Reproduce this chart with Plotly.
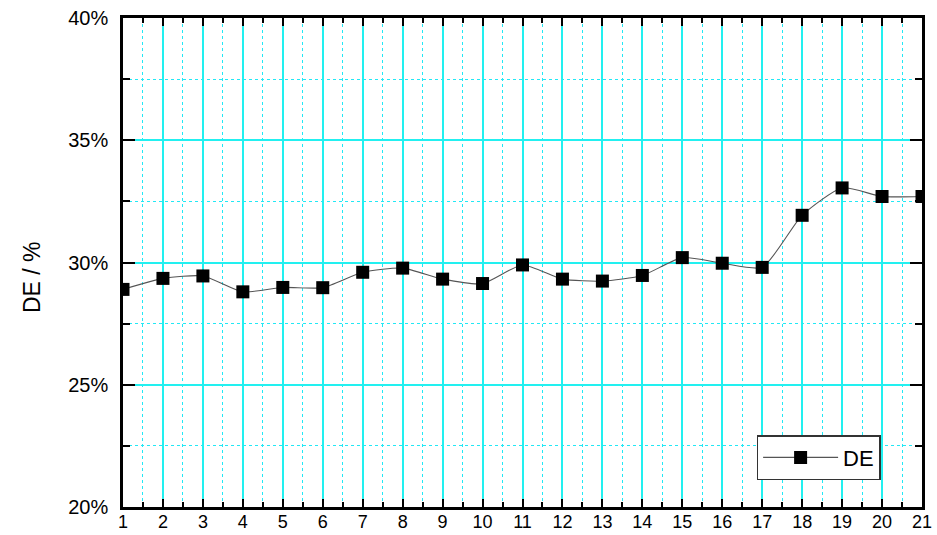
import plotly.graph_objects as go

x_vals = list(range(1, 22))
de_vals = [28.9, 29.35, 29.45, 28.8, 28.98, 28.97, 29.6, 29.77, 29.32, 29.14, 29.9,
           29.32, 29.24, 29.47, 30.2, 29.97, 29.8, 31.93, 33.05, 32.7, 32.7]
y_ticks = [20, 25, 30, 35, 40]
y_tick_text = ["20%", "25%", "30%", "35%", "40%"]
y_title = "DE / %"

fig = go.Figure()
fig.add_trace(go.Scatter(
    x=x_vals, y=de_vals, mode="lines+markers", name="DE",
    line=dict(color="#555555", width=1.1, shape="spline", smoothing=0.6),
    marker=dict(symbol="square", size=13, color="black"),
))

font_family = "Liberation Sans, Arial"
fig.update_xaxes(
    range=[1, 21], tickmode="array", tickvals=x_vals, ticktext=[str(v) for v in x_vals],
    ticks="inside", ticklen=8, tickwidth=2, tickcolor="black",
    showline=True, linecolor="black", linewidth=2.5, mirror="allticks",
    showgrid=True, gridcolor="#22f0f0", gridwidth=1.5,
    minor=dict(dtick=0.5, tick0=0.5, ticks="inside", ticklen=5, tickwidth=1.5, tickcolor="black",
               showgrid=True, gridcolor="#22e8f5", griddash="dot", gridwidth=1),
    tickfont=dict(family=font_family, size=18, color="black"),
    zeroline=False, automargin=False, ticklabelstandoff=-3,
)
fig.update_yaxes(
    range=[20, 40], tickmode="array", tickvals=y_ticks, ticktext=y_tick_text,
    ticks="inside", ticklen=12, tickwidth=2, tickcolor="black",
    showline=True, linecolor="black", linewidth=2.5, mirror="allticks",
    showgrid=True, gridcolor="#22f0f0", gridwidth=1.5,
    minor=dict(dtick=2.5, tick0=0, ticks="inside", ticklen=7, tickwidth=1.5, tickcolor="black",
               showgrid=True, gridcolor="#22e8f5", griddash="dot", gridwidth=1),
    tickfont=dict(family=font_family, size=20, color="black"),
    zeroline=False, automargin=False, ticklabelstandoff=8,
)
fig.add_annotation(
    text=y_title, textangle=-90, xref="paper", yref="paper",
    x=-0.114, y=0.47, xanchor="center", yanchor="middle", showarrow=False,
    font=dict(family=font_family, size=23, color="black"),
)
fig.update_layout(
    width=937, height=535,
    margin=dict(l=123, r=15, t=18, b=28),
    plot_bgcolor="white", paper_bgcolor="white",
    showlegend=True,
    legend=dict(x=0.793, y=0.101, xanchor="left", yanchor="middle",
                bgcolor="white", bordercolor="#333333", borderwidth=1.5,
                font=dict(family=font_family, size=22, color="black"),
                itemwidth=75, tracegroupgap=0),
)
fig.write_html("out.html")
